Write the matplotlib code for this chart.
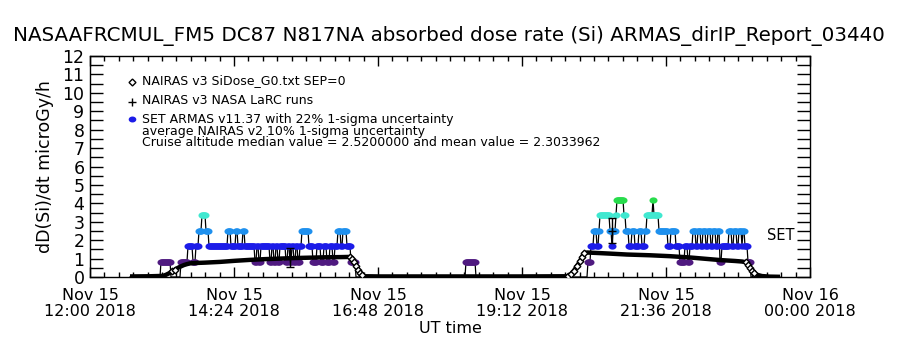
import numpy as np
import matplotlib
matplotlib.use("Agg")
import matplotlib.pyplot as plt
from matplotlib.path import Path

plt.rcParams['font.family'] = ['DejaVu Sans']

# ---------------- data ----------------
# x axis: minutes after 2018-11-15 12:00 UT
xtick_pos = [0, 144, 288, 432, 576, 720]
xtick_labels = ["Nov 15\n12:00 2018", "Nov 15\n14:24 2018", "Nov 15\n16:48 2018",
                "Nov 15\n19:12 2018", "Nov 15\n21:36 2018", "Nov 16\n00:00 2018"]

# NAIRAS v3 SiDose (minutes, microGy/h)
nairas_t = [40, 60, 73, 76, 79, 82, 85, 88, 91, 94, 97, 100, 105, 115, 130, 145, 160,
            175, 190, 205, 220, 235, 250, 260, 262, 264, 266, 268, 270, 272, 275, 290,
            330, 380, 430, 478, 481, 484, 487, 490, 492, 494, 497, 505, 520, 537, 560,
            580, 600, 630, 645, 652, 656, 658, 660, 662, 664, 667, 672, 680, 690]
nairas_v = [0.03, 0.04, 0.06, 0.12, 0.20, 0.30, 0.40, 0.50, 0.58, 0.65, 0.70, 0.74, 0.76,
            0.78, 0.82, 0.88, 0.93, 0.97, 1.00, 1.03, 1.05, 1.07, 1.08, 1.09, 1.00, 0.80,
            0.60, 0.40, 0.22, 0.10, 0.04, 0.03, 0.03, 0.03, 0.03, 0.04, 0.15, 0.35, 0.60,
            0.85, 1.10, 1.28, 1.33, 1.31, 1.27, 1.22, 1.18, 1.13, 1.06, 0.92, 0.87, 0.84,
            0.80, 0.65, 0.50, 0.35, 0.22, 0.12, 0.05, 0.02, 0.01]

# NAIRAS v3 NASA LaRC runs (minutes, value, 1-sigma)
larc_t = [200, 522]
larc_v = [1.05, 2.52]
larc_e = [0.50, 0.66]

# SET ARMAS dose-rate levels and colours
level_values = [0.0, 0.84, 1.68, 2.52, 3.36, 4.20]
level_colors = [None, '#4f1a80', '#1c1ce8', '#1e90ee', '#40e8d0', '#28dc4c']

# SET ARMAS record as runs: start minute, end minute, level index
run_start = [40, 71, 81, 91, 98, 103, 106, 109, 112, 116, 119, 138, 141, 146, 148, 153, 155,
             165, 167, 169, 171, 180, 182, 184, 186, 188, 190, 196, 198, 200, 202, 204, 206,
             208, 210, 212, 219, 223, 227, 231, 234, 237, 240, 243, 245, 248, 251, 253, 257,
             261, 266, 376, 386, 498, 501, 504, 507, 509, 510, 520, 522, 523, 526, 527, 534,
             536, 539, 542, 545, 549, 552, 555, 557, 563, 564, 569, 578, 581, 586, 590, 595,
             598, 600, 603, 606, 608, 611, 613, 616, 618, 621, 623, 626, 628, 630, 632, 639,
             642, 644, 647, 649, 652, 653, 655, 658, 661]
run_end = [70, 80, 90, 97, 102, 105, 108, 111, 115, 118, 137, 140, 145, 147, 152, 154, 164,
           166, 168, 170, 179, 181, 183, 185, 187, 189, 195, 197, 199, 201, 203, 205, 207,
           209, 211, 218, 222, 226, 230, 233, 236, 239, 242, 244, 247, 250, 252, 256, 260,
           265, 375, 385, 497, 500, 503, 506, 508, 509, 519, 521, 522, 525, 526, 533, 535,
           538, 541, 544, 548, 551, 554, 556, 562, 563, 568, 577, 580, 585, 589, 594, 597,
           599, 602, 605, 607, 610, 612, 615, 617, 620, 622, 625, 627, 629, 631, 638, 641,
           643, 646, 648, 651, 652, 654, 657, 660, 690]
run_level = [0, 1, 0, 1, 2, 1, 2, 3, 4, 3, 2, 3, 2, 3, 2, 3, 2,
             1, 2, 1, 2, 1, 2, 1, 2, 1, 2, 1, 2, 1, 2, 1, 2,
             1, 2, 3, 2, 1, 2, 1, 2, 1, 2, 1, 2, 3, 2, 3, 2,
             1, 0, 1, 0, 1, 2, 3, 2, 3, 4, 3, 2, 3, 4, 5, 4,
             3, 2, 3, 2, 3, 2, 3, 4, 5, 4, 3, 2, 3, 2, 1, 2,
             1, 2, 3, 2, 3, 2, 3, 2, 3, 2, 3, 2, 3, 1, 2, 3,
             2, 3, 2, 3, 2, 3, 2, 1, 0]

title = "NASAAFRCMUL_FM5 DC87 N817NA absorbed dose rate (Si) ARMAS_dirIP_Report_03440"
legend_lines = ["NAIRAS v3 SiDose_G0.txt SEP=0",
                "NAIRAS v3 NASA LaRC runs",
                "SET ARMAS v11.37 with 22% 1-sigma uncertainty",
                "average NAIRAS v2 10% 1-sigma uncertainty",
                "Cruise altitude median value = 2.5200000 and mean value = 2.3033962"]

# ---------------- figure ----------------
W, H = 900, 350
fig = plt.figure(figsize=(9, 3.5), dpi=100)
ax = fig.add_axes([90 / W, 1 - 277 / H, 720 / W, 221 / H])

# ARMAS series from the runs
arm_t, arm_l = [], []
for s, e, l in zip(run_start, run_end, run_level):
    for t in range(s, e + 1):
        arm_t.append(t)
        arm_l.append(l)
arm_t = np.array(arm_t)
arm_l = np.array(arm_l)
arm_v = np.array(level_values)[arm_l]

theta = np.linspace(0, 2 * np.pi, 30)
ell = Path(np.column_stack([np.cos(theta), 0.78 * np.sin(theta)]), closed=True)

ax.plot(arm_t, arm_v, color='black', lw=0.9, zorder=2)
for li in range(1, len(level_values)):
    m = arm_l == li
    ax.plot(arm_t[m], arm_v[m], ls='none', marker=ell, ms=5.8,
            mfc=level_colors[li], mec=level_colors[li], mew=0, zorder=3)

nt = np.array(nairas_t, dtype=float)
nv = np.array(nairas_v)
ax.plot(nt, nv, color='black', lw=3.2, zorder=4, solid_capstyle='butt')
# open diamonds are visible where the curve climbs or falls steeply
slope = np.abs(np.gradient(nv, nt))
steep = slope > 0.03
ax.plot(nt[steep], nv[steep], ls='none', marker='D', ms=3.4, mfc='white', mec='black',
        mew=1.0, zorder=4)

ax.errorbar(larc_t, larc_v, yerr=larc_e, fmt='+', color='black', ms=6, mew=1,
            elinewidth=1, capsize=3, zorder=5)

ax.text(705, 2.25, "SET", ha='right', va='center', fontsize=10.5)

ax.set_xlim(0, 720)
ax.set_ylim(0, 12)
ax.set_xticks(xtick_pos)
ax.set_xticklabels(xtick_labels, fontsize=11.5, linespacing=1.05)
ax.set_xticks(np.arange(0, 721, 14.4), minor=True)
ax.set_yticks(np.arange(0, 13, 1))
ax.set_yticks(np.arange(0, 12.01, 0.5), minor=True)
ax.set_yticklabels([str(i) for i in range(13)], fontsize=12.5)
ax.tick_params(axis='y', which='both', direction='in', length=9.5, width=1,
               left=True, right=True, pad=4)
ax.tick_params(axis='x', which='major', direction='in', length=7, width=1,
               top=True, bottom=True, pad=8)
ax.tick_params(axis='x', which='minor', direction='in', length=3.5, width=1,
               top=True, bottom=True)
for sp in ax.spines.values():
    sp.set_linewidth(1)

ax.set_xlabel("UT time", fontsize=11.5, labelpad=2)
ax.set_ylabel("dD(Si)/dt microGy/h", fontsize=12.5, labelpad=6)

fig.text(449 / W, 1 - 36 / H, title, ha='center', va='center', fontsize=14.3)

# legend block
def fx(px):
    return px / W

def fy(py):
    return 1 - py / H

leg_y = [81, 100, 119, 131, 142]
ax.plot([fx(132)], [fy(leg_y[0] + 1)], transform=fig.transFigure, clip_on=False,
        marker='D', ms=3.5, mfc='white', mec='black', mew=1)
ax.plot([fx(132)], [fy(leg_y[1] + 2)], transform=fig.transFigure, clip_on=False,
        marker='+', ms=6, color='black', mew=1)
ax.plot([fx(132)], [fy(leg_y[2])], transform=fig.transFigure, clip_on=False,
        marker=ell, ms=5.5, mfc=level_colors[2], mew=0)
for i, txt in enumerate(legend_lines):
    fig.text(fx(142), fy(leg_y[i]), txt, ha='left', va='center', fontsize=9)

fig.savefig("out.png", dpi=100)
